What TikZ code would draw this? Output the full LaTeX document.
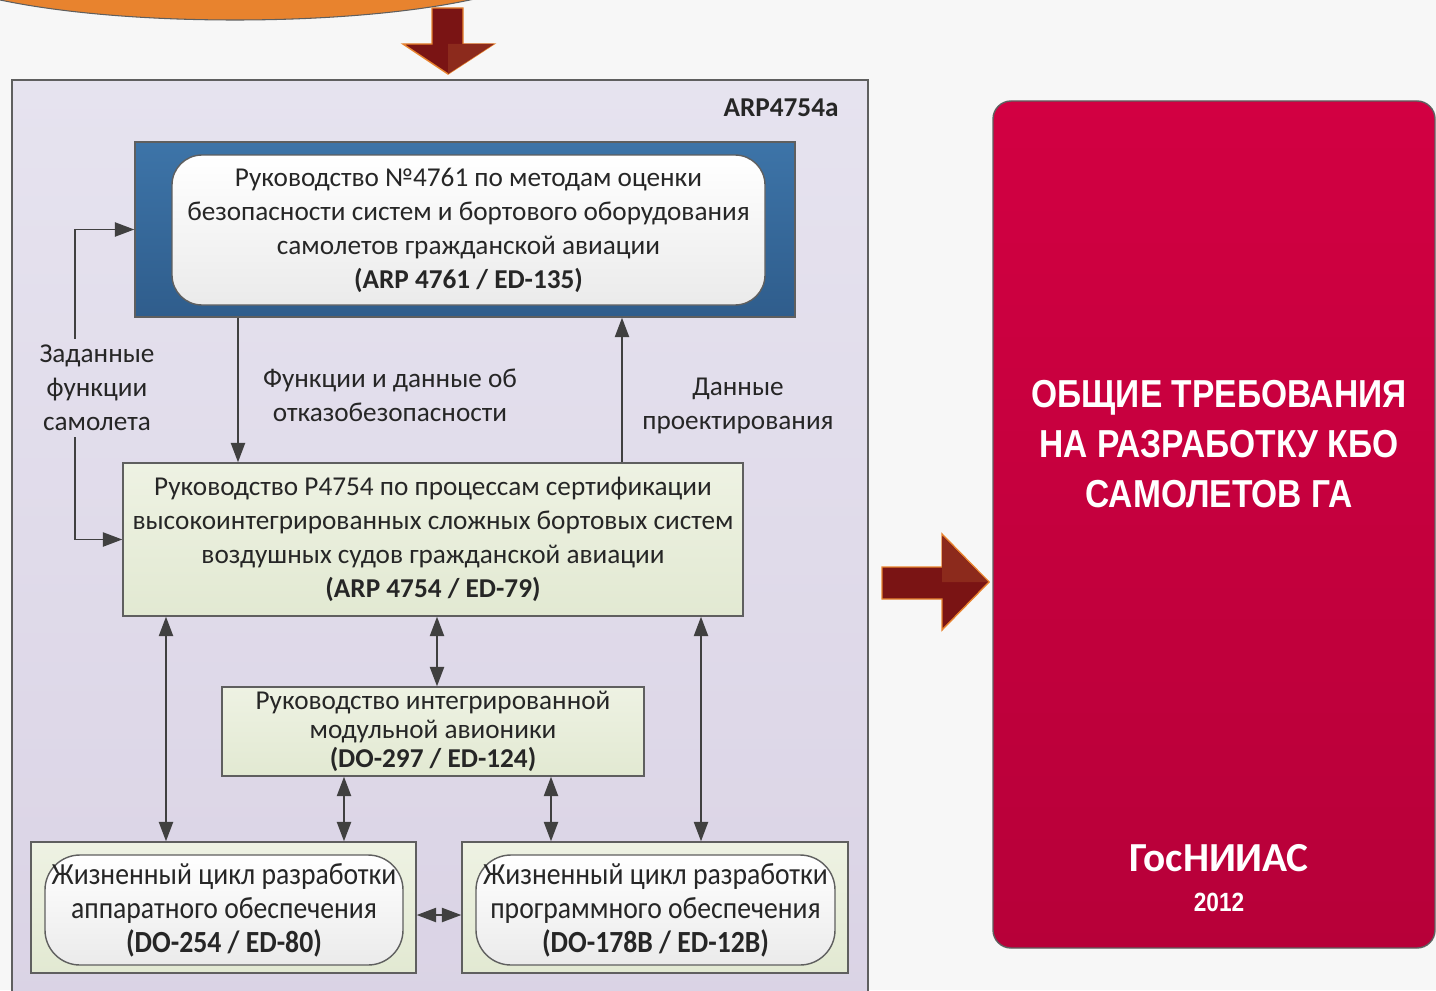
\documentclass[tikz,border=0pt]{standalone}
\usepackage{fontspec}
\setmainfont{Carlito}
\newfontfamily\narrowfont[FakeStretch=0.9]{Carlito}
\newfontfamily\titlefont[FakeStretch=0.86]{Liberation Sans}
\usetikzlibrary{arrows.meta}

\definecolor{pagebg}{HTML}{F7F7F7}
\definecolor{boxgray}{HTML}{5F5F5F}
\definecolor{arrowgray}{HTML}{404040}
\definecolor{lavtop}{HTML}{E6E3EF}
\definecolor{lavbot}{HTML}{DAD3E5}
\definecolor{bluetop}{HTML}{3D74A8}
\definecolor{bluebot}{HTML}{2F5D8C}
\definecolor{greentop}{HTML}{EEF2E3}
\definecolor{greenbot}{HTML}{E2E9D2}
\definecolor{redtop}{HTML}{D20042}
\definecolor{redbot}{HTML}{B70039}
\definecolor{darkred}{HTML}{7A1414}
\definecolor{lightred}{HTML}{8C2A1C}
\definecolor{rimorange}{HTML}{E8832E}
\definecolor{txt}{HTML}{262626}

\tikzset{
  doctext/.style={font=\fontsize{15.5}{19.3}\selectfont, text=txt, align=center},
  docbox/.style={draw=boxgray, line width=0.8pt, top color=greentop, bottom color=greenbot, inner sep=0pt},
  roundbox/.style={draw=boxgray, line width=0.8pt, top color=white, bottom color=black!8, inner sep=0pt},
  lnk/.style={draw=arrowgray, line width=1.1pt, -{Triangle[length=11pt, width=8pt]}},
  twoway/.style={draw=arrowgray, line width=1.1pt, {Triangle[length=11pt, width=8pt]}-{Triangle[length=11pt, width=8pt]}},
  blockarrow/.style={fill=darkred, draw=rimorange, line width=0.8pt, line join=miter}
}

\begin{document}
\begin{tikzpicture}[x=0.02cm, y=-0.02cm]
\useasboundingbox (0,0) rectangle (1436,990);
\clip (0,0) rectangle (1436,990);
\fill[pagebg] (0,0) rectangle (1436,990);

% orange shape cut by the top edge
\draw[fill=rimorange, draw=boxgray, line width=0.6pt] (235,-40) ellipse [x radius=315, y radius=60];

% ARP4754a frame
\draw[draw=boxgray, line width=1pt, top color=lavtop, bottom color=lavbot] (12,80) rectangle (868,1010);
\node[font=\bfseries\fontsize{15.5}{19}\selectfont, text=txt] (arp) at (781,108) {ARP4754a};

% documents
\node[draw=boxgray, line width=0.8pt, top color=bluetop, bottom color=bluebot,
      minimum width=660*0.02cm, minimum height=175*0.02cm] (blue) at (465,229.5) {};
\node[roundbox, rounded corners=0.6cm, minimum width=593*0.02cm, minimum height=150*0.02cm] (safety) at (468.5,230) {};
\node[doctext] at (safety.center) {Руководство №4761 по методам оценки\\безопасности систем и бортового оборудования\\самолетов гражданской авиации\\\textbf{(ARP 4761 / ED-135)}};

\node[docbox, doctext, minimum width=620*0.02cm, minimum height=153*0.02cm] (green) at (433,539.5)
  {Руководство P4754 по процессам сертификации\\высокоинтегрированных сложных бортовых систем\\воздушных судов гражданской авиации\\\textbf{(ARP 4754 / ED-79)}};

\node[docbox, doctext, font=\fontsize{15.5}{16.5}\selectfont, minimum width=422*0.02cm, minimum height=89*0.02cm] (ima) at (433,731.5)
  {Руководство интегрированной\\модульной авионики\\\textbf{(DO-297 / ED-124)}};

\node[docbox, minimum width=385*0.02cm, minimum height=131*0.02cm] (hw) at (223.5,907.5) {};
\node[roundbox, rounded corners=0.7cm, minimum width=358*0.02cm, minimum height=110*0.02cm] (hwin) at (224,910) {};
\node[doctext, font=\narrowfont\fontsize{17.5}{19.3}\selectfont] at (hwin.center)
  {Жизненный цикл разработки\\аппаратного обеспечения\\\textbf{(DO-254 / ED-80)}};

\node[docbox, minimum width=386*0.02cm, minimum height=131*0.02cm] (sw) at (655,907.5) {};
\node[roundbox, rounded corners=0.7cm, minimum width=359*0.02cm, minimum height=110*0.02cm] (swin) at (655.5,910) {};
\node[doctext, font=\narrowfont\fontsize{17.5}{19.3}\selectfont] at (swin.center)
  {Жизненный цикл разработки\\программного обеспечения\\\textbf{(DO-178B / ED-12B)}};

% labels
\node[doctext] (given) at (97,388) {Заданные\\функции\\самолета};
\node[doctext] (safedata) at (390,395) {Функции и данные об\\отказобезопасности};
\node[doctext] (design) at (738,406) {Данные\\проектирования};

% links
\draw[lnk] (given.north -| 75,0) |- (blue.west);
\draw[lnk] (given.south -| 75,0) |- (green.west);
\draw[lnk] (blue.south -| 238,0) -- (green.north -| 238,0);
\draw[lnk] (green.north -| 622,0) -- (blue.south -| 622,0);
\foreach \x in {166,701}
  \draw[twoway] (green.south -| \x,0) -- (hw.north -| \x,0);
\draw[twoway] (green.south -| 437,0) -- (ima.north -| 437,0);
\draw[twoway] (ima.south -| 344,0) -- (hw.north -| 344,0);
\draw[twoway] (ima.south -| 551,0) -- (sw.north -| 551,0);
\draw[twoway] (hw.east |- 0,915) -- (sw.west |- 0,915);

% general requirements
\draw[draw=boxgray, line width=0.8pt, top color=redtop, bottom color=redbot, rounded corners=0.36cm]
  (993,101) rectangle (1435,948);
\node[font=\titlefont\bfseries\fontsize{22.2}{28.5}\selectfont, text=white, align=center] (title) at (1219,444)
  {ОБЩИЕ ТРЕБОВАНИЯ\\НА РАЗРАБОТКУ КБО\\САМОЛЕТОВ ГА};
\node[font=\bfseries\fontsize{23.5}{26}\selectfont, text=white] (gos) at (1219,858) {ГосНИИАС};
\node[font=\titlefont\bfseries\fontsize{15}{17}\selectfont, text=white] (year) at (1219,902) {2012};

% block arrows
\draw[blockarrow] (432,8) -- (463,8) -- (463,44) -- (494,44) -- (448,74) -- (403,44) -- (432,44) -- cycle;
\fill[lightred] (448,44) -- (494,44) -- (448,74) -- cycle;
\draw[blockarrow] (882,567) -- (942,567) -- (942,534) -- (989,582) -- (942,630) -- (942,599) -- (882,599) -- cycle;
\fill[lightred] (942,536) -- (988,582) -- (942,582) -- cycle;
\end{tikzpicture}
\end{document}
